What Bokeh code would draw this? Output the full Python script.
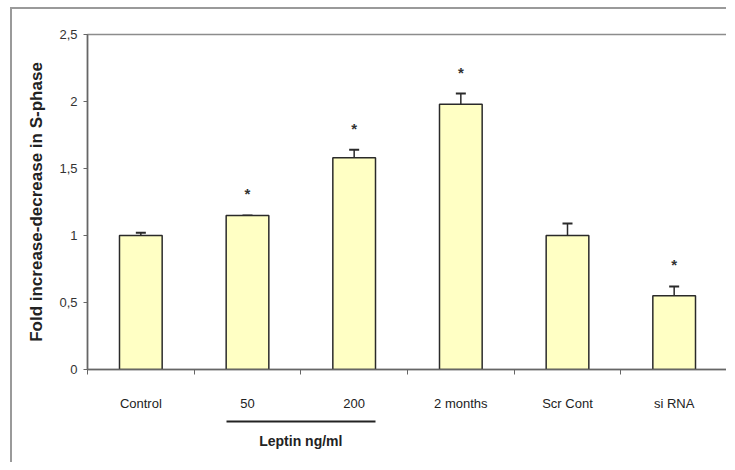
from bokeh.plotting import figure
from bokeh.models import (Range1d, FixedTicker, Whisker, ColumnDataSource, LinearAxis,
                          TeeHead)
from bokeh.core.properties import value
from bokeh.embed import file_html
from bokeh.resources import INLINE

# ---- data ----
categories = ["Control", "50", "200", "2 months", "Scr Cont", "si RNA"]
values = [1.0, 1.15, 1.58, 1.98, 1.0, 0.55]
errors = [0.02, 0.0, 0.06, 0.08, 0.09, 0.07]
significant = [False, True, True, True, False, True]
y_ticks = [0, 0.5, 1, 1.5, 2, 2.5]
y_tick_labels = ["0", "0,5", "1", "1,5", "2", "2,5"]
group_label = "Leptin ng/ml"
group_members = ["50", "200"]
y_title = "Fold increase-decrease in S-phase"

FONT = "Liberation Sans"
BAR_W = 0.4

xs = [i + 0.5 for i in range(len(categories))]
uppers = [v + e for v, e in zip(values, errors)]

p = figure(width=716, height=455, output_backend="svg", toolbar_location=None,
           x_range=Range1d(0, len(categories)), y_range=Range1d(0, 2.5),
           min_border_left=75, min_border_right=1, min_border_top=25,
           min_border_bottom=95,
           styles={"border-left": "2px solid #9a9a9a", "border-top": "2px solid #9a9a9a",
                   "margin-left": "10px", "margin-top": "7px"})
p.grid.visible = False
p.outline_line_color = "#8c8c8c"
p.outline_line_width = 1.5
p.background_fill_color = "white"

src = ColumnDataSource(dict(x=xs, top=values, lower=values, upper=uppers, cat=categories))
p.vbar(x="x", top="top", width=BAR_W, bottom=0, source=src,
       fill_color="#FFFFC4", line_color="#2a2a2a", line_width=1.5)

p.add_layout(Whisker(base="x", lower="lower", upper="upper", source=src,
                     dimension="height", line_color="#2a2a2a", line_width=1.5,
                     upper_head=TeeHead(size=10, line_color="#2a2a2a", line_width=2),
                     lower_head=None))

# asterisks
sx = [x for x, s in zip(xs, significant) if s]
sy = [u + 0.16 for u, s in zip(uppers, significant) if s]
p.text(x=sx, y=sy, text=["*"] * len(sx), text_align="center", text_baseline="middle",
       text_font=value(FONT), text_font_size="15px", text_font_style="bold",
       text_color="#333333")

# x axis: labels at centres, ticks at boundaries
xa = p.xaxis[0]
xa.ticker = FixedTicker(ticks=xs, minor_ticks=list(range(len(categories) + 1)))
xa.major_label_overrides = {x: c for x, c in zip(xs, categories)}
xa.major_tick_out = 0
xa.major_tick_in = 0
xa.minor_tick_out = 5
xa.minor_tick_in = 0
xa.minor_tick_line_color = "#666666"
xa.axis_line_color = "#666666"
xa.axis_line_width = 1.5
xa.major_label_text_font = FONT
xa.major_label_text_font_size = "13px"
xa.major_label_text_color = "#222222"
xa.major_label_standoff = 21
xa.axis_label = " "
xa.axis_label_text_font_size = "4px"
xa.axis_label_standoff = 0

ya = p.yaxis[0]
ya.ticker = FixedTicker(ticks=y_ticks)
ya.major_label_overrides = {t: l for t, l in zip(y_ticks, y_tick_labels)}
ya.major_tick_out = 4
ya.major_tick_in = 0
ya.minor_tick_line_color = None
ya.major_tick_line_color = "#666666"
ya.axis_line_color = "#666666"
ya.axis_line_width = 1.5
ya.major_label_text_font = FONT
ya.major_label_text_font_size = "13px"
ya.major_label_text_color = "#333333"
ya.major_label_standoff = 6
ya.axis_label = y_title
ya.axis_label_text_font = FONT
ya.axis_label_text_font_size = "17px"
ya.axis_label_text_font_style = "bold"
ya.axis_label_text_color = "#222222"
ya.axis_label_standoff = 10

# group bracket for Leptin: a bounded second axis below
gi = [categories.index(g) for g in group_members]
gx0 = xs[min(gi)] - BAR_W / 2
gx1 = xs[max(gi)] + BAR_W / 2
gax = LinearAxis(bounds=(gx0, gx1), ticker=FixedTicker(ticks=[(gx0 + gx1) / 2]),
                 major_label_overrides={(gx0 + gx1) / 2: group_label},
                 axis_line_color="#222222", axis_line_width=2,
                 major_tick_in=0, major_tick_out=0, minor_tick_line_color=None,
                 major_label_text_font=FONT, major_label_text_font_size="14px",
                 major_label_text_font_style="bold", major_label_text_color="#222222",
                 major_label_standoff=11)
p.add_layout(gax, "below")

open("out.html", "w").write(file_html(p, INLINE))
